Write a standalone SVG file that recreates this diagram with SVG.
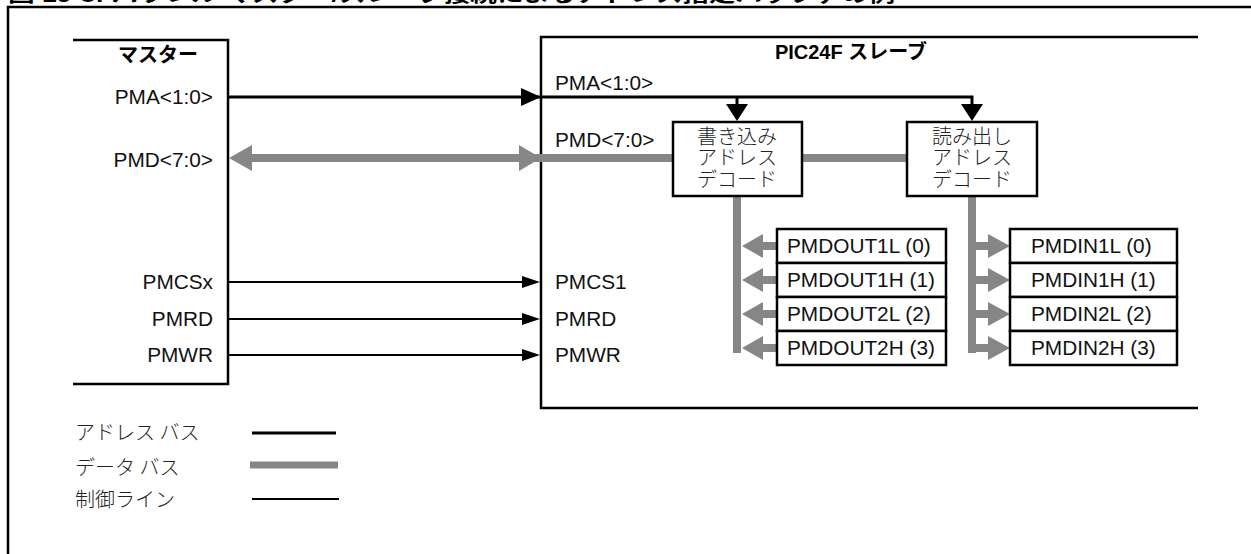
<svg xmlns="http://www.w3.org/2000/svg" width="1251" height="554" viewBox="0 0 1251 554">
<style>
.frame{fill:none;stroke:#000;stroke-width:2.5}
.box{fill:#fff;stroke:#000;stroke-width:2.5}
.lbl{font-family:"Liberation Sans",Arial,sans-serif;font-size:20.8px;fill:#111}
.bold{font-family:"Liberation Sans","Noto Sans CJK JP",sans-serif;font-size:20px;font-weight:bold;fill:#000}
.jp{font-family:"Noto Sans CJK JP",sans-serif;font-size:20px;font-weight:300;fill:#222}
.addr{stroke:#000;stroke-width:3;fill:none}
.ctl{stroke:#000;stroke-width:2;fill:none}
.data{stroke:#868686;stroke-width:8;fill:none}
.ah{fill:#000}
.dh{fill:#868686}
</style>
<rect width="1251" height="554" fill="#fff"/>
<text x="8" y="2" class="bold" font-size="22" textLength="887" lengthAdjust="spacingAndGlyphs" font-family="'Noto Sans CJK JP',sans-serif">図 19-8: パラレル マスター/スレーブ接続によるアドレス指定バッファの例</text>
<path class="frame" d="M8,556 V7 H1253"/>
<g id="master">
<path class="frame" d="M73,40 H228 V384 H73"/>
<text x="158" y="62" class="bold" text-anchor="middle" font-family="'Noto Sans CJK JP',sans-serif">マスター</text>
<text x="213" y="104" class="lbl" text-anchor="end">PMA&lt;1:0&gt;</text>
<text x="213" y="167" class="lbl" text-anchor="end">PMD&lt;7:0&gt;</text>
<text x="213" y="289" class="lbl" text-anchor="end">PMCSx</text>
<text x="213" y="326" class="lbl" text-anchor="end">PMRD</text>
<text x="213" y="362" class="lbl" text-anchor="end">PMWR</text>
</g>
<g id="slave">
<path class="frame" d="M1198,37 H541 V408 H1198"/>
<text x="851" y="59" class="bold" font-size="20.5" text-anchor="middle">PIC24F <tspan font-family="'Noto Sans CJK JP',sans-serif">スレーブ</tspan></text>
<text x="555" y="90" class="lbl">PMA&lt;1:0&gt;</text>
<text x="555" y="147" class="lbl">PMD&lt;7:0&gt;</text>
<text x="555" y="289" class="lbl">PMCS1</text>
<text x="555" y="326" class="lbl">PMRD</text>
<text x="555" y="362" class="lbl">PMWR</text>
</g>
<g id="connectors">
<path class="addr" d="M228,97 H972 V105 M737,97 V105"/>
<polygon class="ah" points="521,88 541,97 521,106"/>
<polygon class="ah" points="726,104 748,104 737,121"/>
<polygon class="ah" points="961,104 983,104 972,121"/>
<path class="data" d="M250,158 H673 M802,158 H907"/>
<polygon class="dh" points="229,158 252,145 252,171"/>
<polygon class="dh" points="541,158 519,145 519,171"/>
<path class="data" d="M737,196 V353 M972,196 V353" stroke-width="7"/>
<path class="data" stroke-width="7" d="M760,246 H777 M760,280 H777 M760,314 H777 M760,348 H777 M972,246 H990 M972,280 H990 M972,314 H990 M972,348 H990"/>
<polygon class="dh" points="742,246 763,234 763,258"/>
<polygon class="dh" points="742,280 763,268 763,292"/>
<polygon class="dh" points="742,314 763,302 763,326"/>
<polygon class="dh" points="742,348 763,336 763,360"/>
<polygon class="dh" points="1010,246 988,234 988,258"/>
<polygon class="dh" points="1010,280 988,268 988,292"/>
<polygon class="dh" points="1010,314 988,302 988,326"/>
<polygon class="dh" points="1010,348 988,336 988,360"/>
<path class="ctl" d="M228,282 H524 M228,319 H524 M228,355 H524"/>
<polygon class="ah" points="522,276 540,282 522,288"/>
<polygon class="ah" points="522,313 540,319 522,325"/>
<polygon class="ah" points="522,349 540,355 522,361"/>
</g>
<g id="write-decode">
<rect class="box" x="673" y="122" width="129" height="74"/>
<text class="jp" text-anchor="middle" x="737" y="144">書き込み</text>
<text class="jp" text-anchor="middle" x="737" y="165">アドレス</text>
<text class="jp" text-anchor="middle" x="737" y="187">デコード</text>
</g>
<g id="read-decode">
<rect class="box" x="907" y="122" width="130" height="74"/>
<text class="jp" text-anchor="middle" x="972" y="144">読み出し</text>
<text class="jp" text-anchor="middle" x="972" y="165">アドレス</text>
<text class="jp" text-anchor="middle" x="972" y="187">デコード</text>
</g>
<g id="pmdout">
<rect class="box" x="777" y="229" width="169" height="34"/>
<rect class="box" x="777" y="263" width="169" height="34"/>
<rect class="box" x="777" y="297" width="169" height="34"/>
<rect class="box" x="777" y="331" width="169" height="34"/>
<text class="lbl" x="787" y="253">PMDOUT1L (0)</text>
<text class="lbl" x="787" y="287">PMDOUT1H (1)</text>
<text class="lbl" x="787" y="321">PMDOUT2L (2)</text>
<text class="lbl" x="787" y="355">PMDOUT2H (3)</text>
</g>
<g id="pmdin">
<rect class="box" x="1010" y="229" width="167" height="34"/>
<rect class="box" x="1010" y="263" width="167" height="34"/>
<rect class="box" x="1010" y="297" width="167" height="34"/>
<rect class="box" x="1010" y="331" width="167" height="34"/>
<text class="lbl" x="1031" y="253">PMDIN1L (0)</text>
<text class="lbl" x="1031" y="287">PMDIN1H (1)</text>
<text class="lbl" x="1031" y="321">PMDIN2L (2)</text>
<text class="lbl" x="1031" y="355">PMDIN2H (3)</text>
</g>
<g id="legend">
<text class="jp" x="75" y="440">アドレス バス</text>
<text class="jp" x="75" y="475">データ バス</text>
<text class="jp" x="75" y="507">制御ライン</text>
<line x1="252" y1="433" x2="336" y2="433" stroke="#000" stroke-width="3"/>
<line x1="250" y1="465" x2="338" y2="465" stroke="#868686" stroke-width="7"/>
<line x1="252" y1="499" x2="339" y2="499" stroke="#000" stroke-width="2"/>
</g>
</svg>
